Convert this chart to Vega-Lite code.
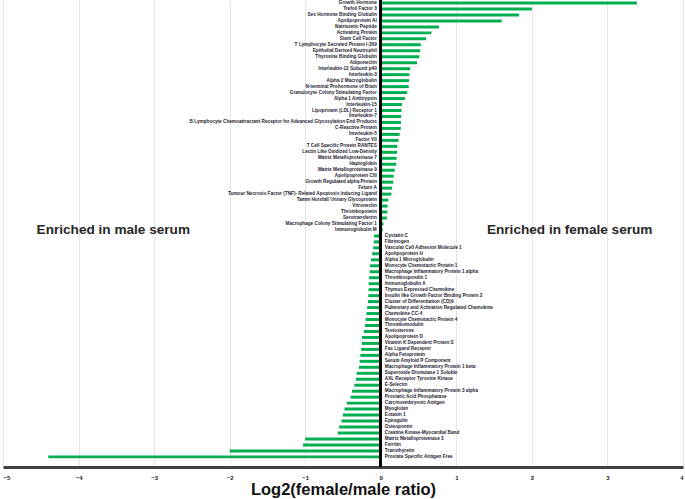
{
  "$schema": "https://vega.github.io/schema/vega-lite/v6.json",
  "width": 680,
  "height": 467,
  "autosize": {"type": "none"},
  "padding": {"left": 3, "right": 2, "top": 0, "bottom": 32},
  "background": "white",
  "config": {"view": {"stroke": null}},
  "datasets": {
    "proteins": [
      {"protein": "Growth Hormone", "value": 3.39},
      {"protein": "Trefoil Factor 3", "value": 2.0},
      {"protein": "Sex Hormone Binding Globulin", "value": 1.83},
      {"protein": "Apolipoprotein AI", "value": 1.6},
      {"protein": "Natriuretic Peptide", "value": 0.77},
      {"protein": "Activating Protein", "value": 0.67},
      {"protein": "Stem Cell Factor", "value": 0.6},
      {"protein": "T Lymphocyte Secreted Protein I-309", "value": 0.53},
      {"protein": "Epithelial Derived Neutrophil", "value": 0.52},
      {"protein": "Thyroxine Binding Globulin", "value": 0.51},
      {"protein": "Adiponectin", "value": 0.48},
      {"protein": "Interleukin-12 Subunit p40", "value": 0.39},
      {"protein": "Interleukin-3", "value": 0.38},
      {"protein": "Alpha 2 Macroglobulin", "value": 0.375},
      {"protein": "N-terminal Prohormone of Brain", "value": 0.37},
      {"protein": "Granulocyte Colony Stimulating Factor", "value": 0.35},
      {"protein": "Alpha 1 Antitrypsin", "value": 0.32},
      {"protein": "Interleukin-15", "value": 0.28},
      {"protein": "Lipoprotein (LDL) Receptor 1", "value": 0.275},
      {"protein": "Interleukin-7", "value": 0.27},
      {"protein": "B Lymphocyte Chemoattractant Receptor for Advanced Glycosylation End Products", "value": 0.268},
      {"protein": "C-Reactive Protein", "value": 0.265},
      {"protein": "Interleukin-5", "value": 0.25},
      {"protein": "Factor VII", "value": 0.235},
      {"protein": "T Cell Specific Protein RANTES", "value": 0.22},
      {"protein": "Lectin Like Oxidized Low-Density", "value": 0.215},
      {"protein": "Matrix Metalloproteinase 7", "value": 0.21},
      {"protein": "Haptoglobin", "value": 0.205},
      {"protein": "Matrix Metalloproteinase 9", "value": 0.185},
      {"protein": "Apolipoprotein CIII", "value": 0.17},
      {"protein": "Growth Regulated alpha Protein", "value": 0.165},
      {"protein": "Fetuin A", "value": 0.15},
      {"protein": "Tumour Necrosis Factor (TNF)- Related Apoptosis Inducing Ligand", "value": 0.14},
      {"protein": "Tamm Horsfall Urinary Glycoprotein", "value": 0.1},
      {"protein": "Vitronectin", "value": 0.09},
      {"protein": "Thrombopoietin", "value": 0.088},
      {"protein": "Serotransferrin", "value": 0.08},
      {"protein": "Macrophage Colony Stimulating Factor 1", "value": 0.035},
      {"protein": "Immunoglobulin M", "value": 0.025},
      {"protein": "Cystatin C", "value": -0.09},
      {"protein": "Fibrinogen", "value": -0.092},
      {"protein": "Vascular Cell Adhesion Molecule 1", "value": -0.1},
      {"protein": "Apolipoprotein H", "value": -0.115},
      {"protein": "Alpha 1 Microglobulin", "value": -0.13},
      {"protein": "Monocyte Chemotactic Protein 1", "value": -0.145},
      {"protein": "Macrophage Inflammatory Protein 1 alpha", "value": -0.147},
      {"protein": "Thrombospondin 1", "value": -0.155},
      {"protein": "Immunoglobulin A", "value": -0.16},
      {"protein": "Thymus Expressed Chemokine", "value": -0.162},
      {"protein": "Insulin like Growth Factor Binding Protein 2", "value": -0.165},
      {"protein": "Cluster of Differentiation (CD)9", "value": -0.17},
      {"protein": "Pulmonary and Activation Regulated Chemokine", "value": -0.18},
      {"protein": "Chemokine CC-4", "value": -0.19},
      {"protein": "Monocyte Chemotactic Protein 4", "value": -0.2},
      {"protein": "Thrombomodulin", "value": -0.21},
      {"protein": "Testosterone", "value": -0.225},
      {"protein": "Apolipoprotein D", "value": -0.25},
      {"protein": "Vitamin K Dependent Protein S", "value": -0.252},
      {"protein": "Fas Ligand Receptor", "value": -0.26},
      {"protein": "Alpha Fetoprotein", "value": -0.27},
      {"protein": "Serum Amyloid P Component", "value": -0.28},
      {"protein": "Macrophage Inflammatory Protein 1 beta", "value": -0.29},
      {"protein": "Superoxide Dismutase 1 Soluble", "value": -0.32},
      {"protein": "AXL Receptor Tyrosine Kinase", "value": -0.33},
      {"protein": "E-Selectin", "value": -0.35},
      {"protein": "Macrophage Inflammatory Protein 3 alpha", "value": -0.38},
      {"protein": "Prostatic Acid Phosphatase", "value": -0.4},
      {"protein": "Carcinoembryonic Antigen", "value": -0.45},
      {"protein": "Myoglobin", "value": -0.48},
      {"protein": "Eotaxin 1", "value": -0.5},
      {"protein": "Epiregulin", "value": -0.52},
      {"protein": "Osteopontin", "value": -0.55},
      {"protein": "Creatine Kinase-Myocardial Band", "value": -0.57},
      {"protein": "Matrix Metalloproteinase 3", "value": -1.0},
      {"protein": "Ferritin", "value": -1.03},
      {"protein": "Transthyretin", "value": -2.0},
      {"protein": "Prostate Specific Antigen Free", "value": -4.4}
    ],
    "notes": [
      {"note": "Enriched in male serum", "pos": -3.54, "row": "Immunoglobulin M"},
      {"note": "Enriched in female serum", "pos": 2.5, "row": "Immunoglobulin M"}
    ]
  },
  "data": {"name": "proteins"},
  "encoding": {
    "y": {
      "field": "protein",
      "type": "nominal",
      "sort": null,
      "axis": null,
      "scale": {"paddingInner": 0.5, "paddingOuter": 0.85, "align": 0.15}
    }
  },
  "layer": [
    {
      "mark": {"type": "bar", "color": "#00B050"},
      "encoding": {
        "x": {
          "field": "value",
          "type": "quantitative",
          "scale": {"domain": [-5, 4], "nice": false},
          "axis": {
            "values": [-5, -4, -3, -2, -1, 0, 1, 2, 3, 4],
            "format": "d",
            "title": "Log2(female/male ratio)",
            "titleFont": "Liberation Sans",
            "titleFontSize": 16.5,
            "titleFontWeight": "bold",
            "titleColor": "#111111",
            "titlePadding": 1,
            "labelFont": "Liberation Sans",
            "labelFontSize": 6,
            "labelFontWeight": "bold",
            "labelColor": "#222222",
            "labelPadding": 7,
            "ticks": false,
            "domainColor": "#404040",
            "domainWidth": 3,
            "grid": true,
            "gridColor": "#e6e6e6",
            "gridWidth": 1
          }
        }
      }
    },
    {
      "mark": {"type": "rule", "color": "#000000", "strokeWidth": 2},
      "encoding": {"x": {"datum": 0}, "y": null}
    },
    {
      "transform": [{"filter": "datum.value > 0"}],
      "mark": {"type": "text", "align": "right", "baseline": "middle", "dx": -4, "font": "Liberation Sans", "fontSize": 4.7, "fontWeight": "bold", "color": "#1e2230"},
      "encoding": {"x": {"datum": 0}, "text": {"field": "protein"}}
    },
    {
      "transform": [{"filter": "datum.value < 0"}],
      "mark": {"type": "text", "align": "left", "baseline": "middle", "dx": 4, "font": "Liberation Sans", "fontSize": 4.7, "fontWeight": "bold", "color": "#1e2230"},
      "encoding": {"x": {"datum": 0}, "text": {"field": "protein"}}
    },
    {
      "data": {"name": "notes"},
      "mark": {"type": "text", "align": "center", "baseline": "middle", "font": "Liberation Sans", "fontSize": 13.6, "fontWeight": "bold", "color": "#262626"},
      "encoding": {
        "x": {"field": "pos", "type": "quantitative"},
        "y": {"field": "row", "type": "nominal"},
        "text": {"field": "note"}
      }
    }
  ]
}
